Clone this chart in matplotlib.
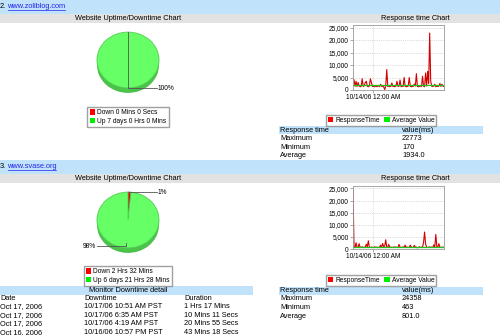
import matplotlib
matplotlib.use('Agg')
import matplotlib.pyplot as plt
from matplotlib.patches import Rectangle, Patch
from matplotlib.ticker import FuncFormatter

plt.rcParams['font.family'] = ['Liberation Sans', 'DejaVu Sans']

# ---- data ----
sites = ['www.zoliblog.com', 'www.svase.org']
site_numbers = ['2.', '3.']

pie_labels_1 = ['Down 0 Mins 0 Secs', 'Up 7 days 0 Hrs 0 Mins']
pie_minutes_1 = [0, 10080]
pie_labels_2 = ['Down 2 Hrs 32 Mins', 'Up 6 days 21 Hrs 28 Mins']
pie_minutes_2 = [152, 9928]

resp_1 = [4200, 4100, 1500, 3500, 1400, 3000, 1600, 1300, 1500, 4500,
          1400, 1700, 3000, 3500, 1500, 1300, 1600, 4500, 3000, 1400,
          1500, 1300, 1600, 1400, 1500, 1700, 1300, 2300, 1500, 1400,
          1300, 170, 1500, 8200, 1400, 1600, 1300, 1500, 2800, 1400,
          1500, 1300, 1600, 3500, 1400, 1500, 4000, 1300, 1600, 1400,
          5000, 1500, 1300, 1400, 1600, 5000, 1500, 1300, 1400, 1500,
          2400, 1600, 6500, 1400, 1300, 1500, 1600, 1400, 5500, 1500,
          1300, 6800, 1600, 7500, 2500, 22773, 3500, 1500, 1400, 1600,
          2300, 1300, 1500, 1400, 1600, 2600, 1400, 2300, 1500, 1400]
avg_1 = 1934.0
resp_2 = [24358, 900, 600, 2600, 700, 800, 2200, 600, 700, 900,
          600, 800, 700, 2000, 900, 3400, 700, 600, 800, 700,
          600, 900, 700, 800, 600, 700, 800, 1600, 700, 2300,
          900, 1200, 3800, 800, 700, 1900, 600, 800, 700, 600,
          900, 700, 800, 600, 700, 1900, 800, 600, 700, 900,
          600, 1600, 700, 800, 600, 700, 1600, 800, 700, 600,
          1500, 700, 800, 463, 700, 900, 600, 800, 700, 2700,
          7000, 2000, 800, 600, 700, 900, 700, 800, 600, 1700,
          800, 6000, 900, 700, 2200, 800, 600, 700, 800, 600]
avg_2 = 801.0
date_tick_index = 20
date_tick_label = '10/14/06 12:00 AM'

stat_names = ['Maximum', 'Minimum', 'Average']
stat_values_1 = ['22773', '170', '1934.0']
stat_values_2 = ['24358', '463', '801.0']

down_dates = ['Oct 17, 2006', 'Oct 17, 2006', 'Oct 17, 2006', 'Oct 16, 2006']
down_times = ['10/17/06 10:51 AM PST', '10/17/06 6:35 AM PST',
              '10/17/06 4:19 AM PST', '10/16/06 10:57 PM PST']
down_durations = ['1 Hrs 17 Mins', '10 Mins 11 Secs', '20 Mins 55 Secs',
                  '43 Mins 18 Secs']

BLUE = '#c0e2fb'
GRAY = '#e2e2e2'
LINK = '#2323e8'
RED = '#ff0000'
GREEN = '#66ff66'
FS = 5.3

W, H = 500, 335
fig = plt.figure(figsize=(5, 3.35), dpi=100)


def px_axes(x0, y0, x1, y1, **kw):
    return fig.add_axes([x0 / W, 1 - y1 / H, (x1 - x0) / W, (y1 - y0) / H], **kw)


bg = px_axes(0, 0, W, H, zorder=0)
bg.set_xlim(0, W)
bg.set_ylim(H, 0)
bg.axis('off')

ov = px_axes(0, 0, W, H, zorder=10)
ov.set_xlim(0, W)
ov.set_ylim(H, 0)
ov.axis('off')
ov.patch.set_alpha(0)


def band(x0, y0, x1, y1, color):
    bg.add_patch(Rectangle((x0, y0), x1 - x0, y1 - y0, color=color, lw=0))


def txt(x, y, s, **kw):
    kw.setdefault('fontsize', FS)
    kw.setdefault('va', 'center')
    ov.text(x, y, s, **kw)


# ---- page bands and headings ----
for top, num, site, ulen in [(0, site_numbers[0], sites[0], 57),
                             (160, site_numbers[1], sites[1], 48)]:
    band(0, top, W, top + 13.5, BLUE)
    band(0, top + 14, W, top + 23, GRAY)
    txt(0, top + 6.5, num)
    txt(7.5, top + 6.5, site, color=LINK)
    ov.plot([7.5, 7.5 + ulen], [top + 10.3, top + 10.3], color=LINK, lw=0.5)
    txt(128, top + 18.5, 'Website Uptime/Downtime Chart', ha='center')
    txt(415, top + 18.5, 'Response time Chart', ha='center')


# ---- pies ----
SQ = 0.9


def draw_pie(cx, cy, minutes, labels, leg_top):
    ax = px_axes(cx - 40, cy - 40, cx + 40, cy + 40, zorder=2)
    ax.pie(minutes, colors=['#b00000', '#4cc24c'], startangle=90,
           counterclock=False, radius=31, center=(0, -5 / SQ),
           wedgeprops=dict(linewidth=0))
    wedges, _ = ax.pie(minutes, colors=[RED, GREEN], startangle=90,
                       counterclock=False, radius=31, center=(0, 0),
                       wedgeprops=dict(linewidth=0.6))
    wedges[0].set_edgecolor('#555555')
    wedges[1].set_edgecolor('#55cc55')
    ax.set_aspect('auto')
    ax.set_xlim(-40, 40)
    ax.set_ylim(-40 / SQ, 40 / SQ)
    ax.axis('off')
    handles = [Patch(facecolor=RED, edgecolor='none'),
               Patch(facecolor='#00ee00', edgecolor='none')]
    fig.legend(handles, labels, loc='upper center',
               bbox_to_anchor=(cx / W, 1 - leg_top / H),
               fontsize=4.8, ncol=1, frameon=True, fancybox=False,
               edgecolor='#888888', handlelength=0.8, handleheight=0.8,
               handletextpad=0.3, borderpad=0.35, labelspacing=0.25,
               borderaxespad=0)


draw_pie(128, 60, pie_minutes_1, pie_labels_1, 107)
ov.plot([128, 128], [32, 60], color='#555555', lw=0.6)
ov.plot([128, 128, 157], [60, 88, 88], color='#555555', lw=0.6)
txt(158, 88, '100%', fontsize=4.8)

draw_pie(128, 220, pie_minutes_2, pie_labels_2, 266)
ov.plot([129.5, 157], [192, 192], color='#555555', lw=0.6)
txt(158, 192, '1%', fontsize=4.8)
ov.plot([126, 126, 97], [243, 246, 246], color='#555555', lw=0.6)
txt(96, 246, '98%', fontsize=4.8, ha='right')


# ---- response time charts ----
def draw_resp(y0, y1, values, avg, leg_top, top_val):
    ax = px_axes(353, y0, 444, y1, zorder=2)
    xs = list(range(len(values)))
    ax.plot(xs, values, color='#d40000', lw=0.8)
    ax.axhline(avg, color='#1fc41f', lw=0.9)
    ax.set_xlim(0, len(values) - 1)
    ax.set_ylim(0, top_val)
    ax.set_yticks([0, 5000, 10000, 15000, 20000, 25000])
    ax.yaxis.set_major_formatter(FuncFormatter(lambda v, p: f'{int(v):,}'))
    ax.set_xticks([date_tick_index])
    ax.set_xticklabels([date_tick_label])
    ax.grid(color='#bbbbbb', linestyle=':', lw=0.5)
    ax.tick_params(labelsize=4.7, length=2, width=0.5, pad=1,
                   color='#888888')
    for s in ax.spines.values():
        s.set_color('#999999')
        s.set_linewidth(0.6)
    handles = [Patch(facecolor=RED, edgecolor='none'),
               Patch(facecolor='#00ee00', edgecolor='none')]
    fig.legend(handles, ['ResponseTime', 'Average Value'], loc='upper center',
               bbox_to_anchor=(381 / W, 1 - leg_top / H),
               fontsize=4.8, ncol=2, frameon=True, fancybox=False,
               edgecolor='#888888', handlelength=0.8, handleheight=0.8,
               handletextpad=0.3, borderpad=0.3, columnspacing=0.7,
               borderaxespad=0)


draw_resp(25, 90, resp_1, avg_1, 115, 26000)
draw_resp(186, 249, resp_2, avg_2, 274.5, 26000)


# ---- response tables ----
def stat_table(top, values):
    band(279, top, 483, top + 8, BLUE)
    txt(280, top + 4, 'Response time')
    txt(402, top + 4, 'value(ms)')
    for i, (n, v) in enumerate(zip(stat_names, values)):
        y = top + 12.5 + i * 8.7
        txt(280, y, n)
        txt(402, y, v)


stat_table(126, stat_values_1)
stat_table(286.5, stat_values_2)

# ---- downtime detail table ----
band(0, 286, 253, 294.5, BLUE)
txt(128, 290.2, 'Monitor Downtime detail', ha='center')
txt(0, 298.5, 'Date')
txt(84, 298.5, 'Downtime')
txt(184, 298.5, 'Duration')
for i in range(len(down_dates)):
    y = 306.5 + i * 8.6
    txt(0, y, down_dates[i])
    txt(84, y, down_times[i])
    txt(184, y, down_durations[i])

fig.savefig('out.png', dpi=100)
